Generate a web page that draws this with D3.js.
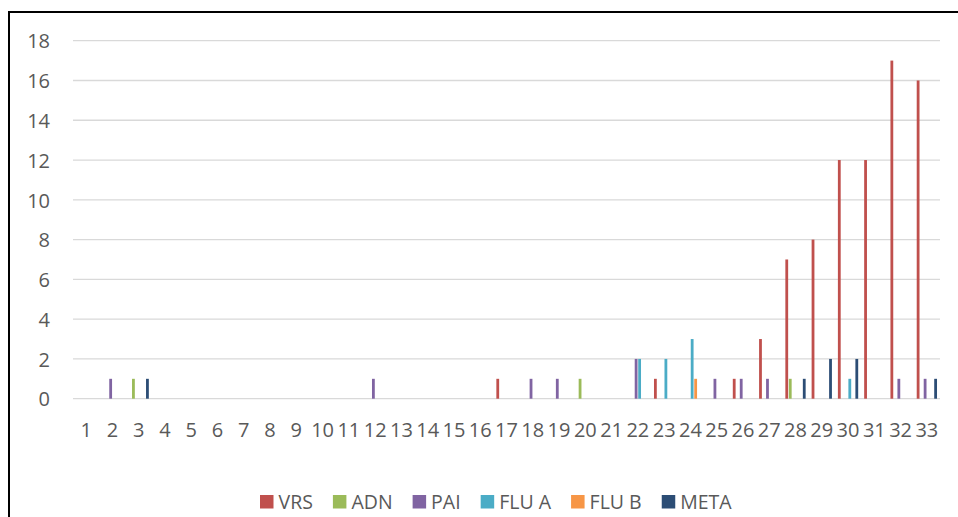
<!DOCTYPE html>
<html>
<head>
<meta charset="utf-8">
<script src="https://cdn.jsdelivr.net/npm/d3@7"></script>
<style>
  html, body { margin: 0; padding: 0; background: #fff; }
  svg { display: block; }
  text { font-family: "Open Sans", "Liberation Sans", sans-serif; fill: #595959; }
</style>
</head>
<body>
<svg id="chart" width="958" height="517"></svg>
<script>
const categories = d3.range(1, 34).map(String);
const seriesNames = ["VRS", "ADN", "PAI", "FLU A", "FLU B", "META"];
const seriesColors = ["#c0504d", "#9bbb59", "#8064a2", "#4bacc6", "#f79646", "#2c4d75"];
const VRS  = [0,0,0,0,0,0,0,0,0,0, 0,0,0,0,0,0,1,0,0,0, 0,0,1,0,0,1,3,7,8,12, 12,17,16];
const ADN  = [0,0,1,0,0,0,0,0,0,0, 0,0,0,0,0,0,0,0,0,1, 0,0,0,0,0,0,0,1,0,0, 0,0,0];
const PAI  = [0,1,0,0,0,0,0,0,0,0, 0,1,0,0,0,0,0,1,1,0, 0,2,0,0,1,1,1,0,0,0, 0,1,1];
const FLUA = [0,0,0,0,0,0,0,0,0,0, 0,0,0,0,0,0,0,0,0,0, 0,2,2,3,0,0,0,0,0,1, 0,0,0];
const FLUB = [0,0,0,0,0,0,0,0,0,0, 0,0,0,0,0,0,0,0,0,0, 0,0,0,1,0,0,0,0,0,0, 0,0,0];
const META = [0,0,1,0,0,0,0,0,0,0, 0,0,0,0,0,0,0,0,0,0, 0,0,0,0,0,0,0,1,2,2, 0,0,1];
const yTicks = [0, 2, 4, 6, 8, 10, 12, 14, 16, 18];

const seriesValues = [VRS, ADN, PAI, FLUA, FLUB, META];

const svg = d3.select("#chart");

// outer frame (left and top edges visible)
svg.append("rect")
  .attr("x", 9).attr("y", 12)
  .attr("width", 1000).attr("height", 600)
  .attr("fill", "none").attr("stroke", "#000").attr("stroke-width", 2);

const plotLeft = 73, plotRight = 940, plotTop = 40.7, plotBottom = 398.7;

const x = d3.scaleBand().domain(categories).range([plotLeft, plotRight]).padding(0);
const y = d3.scaleLinear().domain([0, 18]).range([plotBottom, plotTop]);
const groupWidth = 21;
const xInner = d3.scaleBand().domain(seriesNames).range([0, groupWidth]).padding(0);
const barW = 2.8;

// gridlines
svg.append("g").selectAll("line").data(yTicks).join("line")
  .attr("x1", plotLeft).attr("x2", plotRight)
  .attr("y1", d => y(d)).attr("y2", d => y(d))
  .attr("stroke", "#d9d9d9").attr("stroke-width", 1.3);

// y axis labels
const yAxis = d3.axisLeft(y).tickValues(yTicks).tickSize(0).tickPadding(0);
const yg = svg.append("g").attr("transform", "translate(50,0)").call(yAxis);
yg.select(".domain").remove();
yg.selectAll("text").attr("font-size", 20).attr("dy", "0.36em")
  .style("font-family", "'Open Sans', sans-serif").attr("fill", "#595959");

// x axis labels
const xAxis = d3.axisBottom(x).tickSize(0).tickPadding(0);
const xg = svg.append("g").attr("transform", `translate(0,${plotBottom})`).call(xAxis);
xg.select(".domain").remove();
xg.selectAll("text").attr("font-size", 20).attr("dy", 0).attr("y", 38)
  .style("font-family", "'Open Sans', sans-serif").attr("fill", "#595959");

// bars
const barData = [];
seriesNames.forEach((s, si) => {
  categories.forEach((c, ci) => {
    const v = seriesValues[si][ci];
    if (v > 0) barData.push({ s, si, c, v });
  });
});
svg.append("g").selectAll("rect").data(barData).join("rect")
  .attr("x", d => x(d.c) + (x.bandwidth() - groupWidth) / 2 + xInner(d.s) + (xInner.bandwidth() - barW) / 2)
  .attr("y", d => y(d.v))
  .attr("width", barW)
  .attr("height", d => y(0) - y(d.v))
  .attr("fill", d => seriesColors[d.si]);

// legend
const legend = svg.append("g");
const items = legend.selectAll("g").data(seriesNames).join("g");
items.append("rect").attr("width", 13.5).attr("height", 13.5).attr("y", 495)
  .attr("fill", (d, i) => seriesColors[i]);
items.append("text").text(d => d).attr("x", 18.5).attr("y", 509)
  .attr("font-size", 19.5).style("font-family", "'Open Sans', sans-serif").attr("fill", "#595959");
const widths = [];
items.each(function () { widths.push(18.5 + this.querySelector("text").getComputedTextLength()); });
const legStart = 260, legEnd = 731.7;
const gap = (legEnd - legStart - d3.sum(widths)) / (widths.length - 1);
const positions = [];
let cx = legStart;
widths.forEach(w => { positions.push(cx); cx += w + gap; });
items.attr("transform", (d, i) => `translate(${positions[i]},0)`);
</script>
</body>
</html>
